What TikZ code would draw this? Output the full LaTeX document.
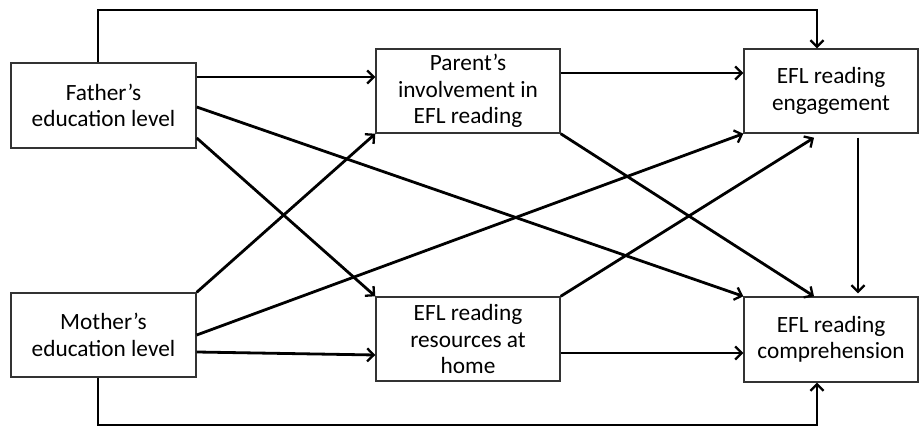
\documentclass[tikz,border=0pt]{standalone}
\usepackage{fontspec}
\setmainfont{Carlito}
\usetikzlibrary{arrows.meta,calc}
\begin{document}
\begin{tikzpicture}[x=1pt,y=-1pt,
  box/.style={draw=black!80,line width=1.4pt,rectangle,align=center,inner sep=0pt,
    font=\fontsize{23.3}{26.5}\selectfont},
  arr/.style={line width=2.8pt,-{Straight Barb[length=6.5pt,width=13pt,line width=2.3pt]}}]
\useasboundingbox (0,0) rectangle (919,427);
\node[box,minimum width=185pt,minimum height=85pt] (F) at (103.5,105.5) {Father’s\\education level};
\node[box,minimum width=185pt,minimum height=84pt] (M) at (103.5,335) {Mother’s\\education level};
\node[box,minimum width=184pt,minimum height=84pt] (P) at (468,91) {Parent’s\\involvement in\\EFL reading};
\node[box,minimum width=184pt,minimum height=84pt] (R) at (468,339) {EFL reading\\resources at\\home};
\node[box,minimum width=174pt,minimum height=84pt] (E) at (831,91) {EFL reading\\engagement};
\node[box,minimum width=174pt,minimum height=85pt] (C) at (831,339.5) {EFL reading\\comprehension};
\coordinate (t1) at (98,10);
\coordinate (t2) at (817,10);
\coordinate (b1) at (98,425);
\coordinate (b2) at (817,425);
% outer loops
\draw[arr] (F.north -| t1) -- (t1) -- (t2) -- (E.north -| t2);
\draw[arr] (M.south -| b1) -- (b1) -- (b2) -- (C.south -| b2);
% father
\draw[arr] (F.east |- 0,77) -- (P.west |- 0,77);
\draw[arr] (F.east |- 0,107) -- (C.north west);
\draw[arr] (F.east |- 0,138) -- (R.north west);
% mother
\draw[arr] (M.north east) -- (P.south west);
\draw[arr] (M.east |- 0,335) -- (E.south west);
\draw[arr] (M.east |- 0,352) -- (R.west |- 0,355);
% middle
\draw[arr] (P.east |- 0,73) -- (E.west |- 0,73);
\draw[arr] (P.south east) -- (C.north -| 814,0);
\draw[arr] (R.north east) -- ($(E.south -| 814,0)+(0,4)$);
\draw[arr] (R.east |- 0,353) -- (C.west |- 0,353);
\draw[arr] ($(E.south -| 858,0)+(0,4)$) -- ($(C.north -| 858,0)+(0,-3)$);
\end{tikzpicture}
\end{document}
